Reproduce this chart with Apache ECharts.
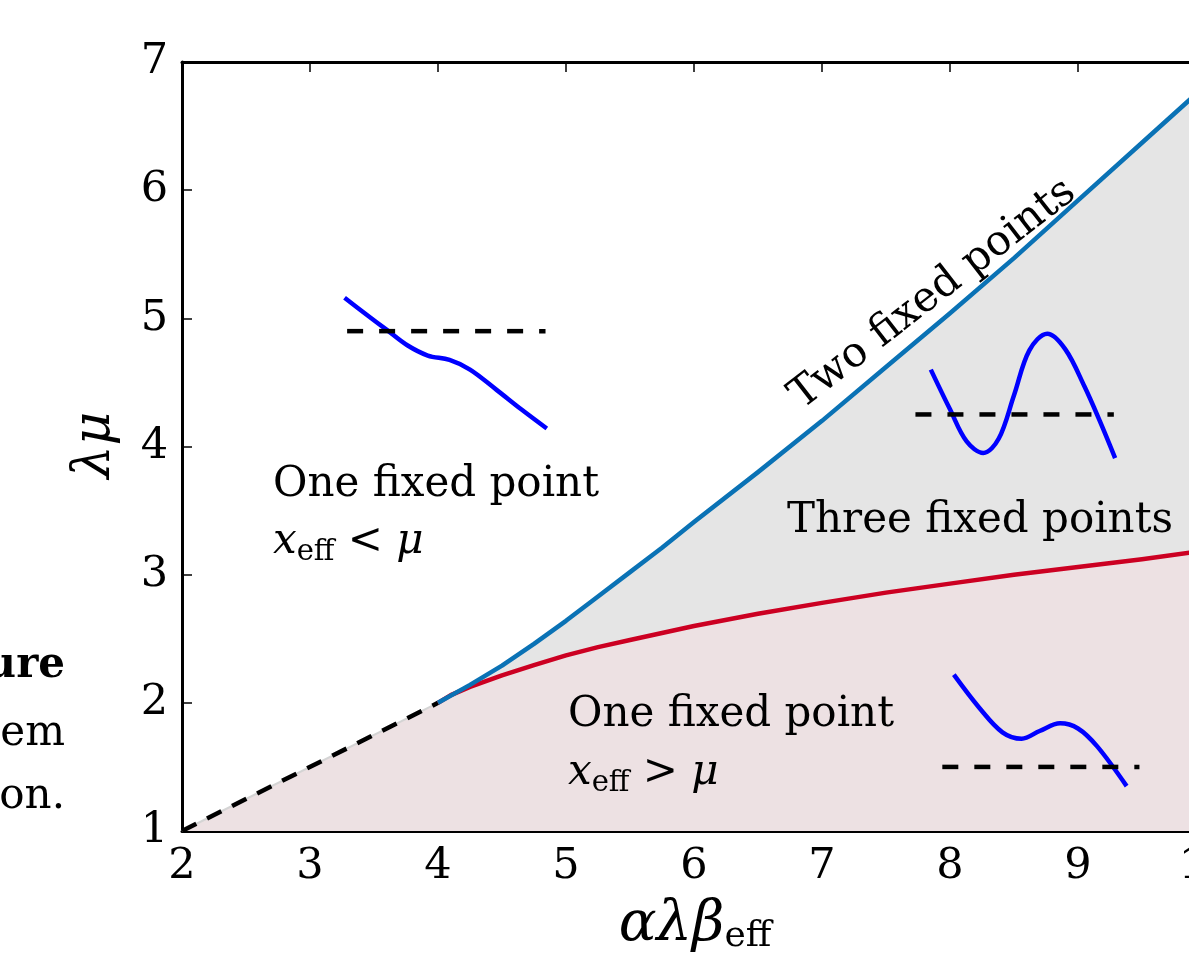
<!DOCTYPE html>
<html>
<head>
<meta charset="utf-8">
<script src="https://cdn.jsdelivr.net/npm/echarts@6/dist/echarts.min.js"></script>
<style>
html, body { margin: 0; padding: 0; background: #fff; }
#main { width: 1189px; height: 956px; }
</style>
</head>
<body>
<div id="main"></div>
<script>
// boundary curves
var dashedEdge = [[2, 1], [4, 2]];
var blueCurve = [[4, 2], [4.25, 2.14], [4.5, 2.29], [4.75, 2.46], [5, 2.64], [5.25, 2.83], [5.5, 3.02],
    [5.75, 3.21], [6, 3.41], [6.5, 3.8], [7, 4.2], [7.5, 4.62], [8, 5.04], [8.5, 5.47], [9, 5.92],
    [9.5, 6.37], [10, 6.82]];
var redCurve = [[4, 2], [4.1, 2.06], [4.25, 2.125], [4.5, 2.215], [4.75, 2.295], [5, 2.37], [5.25, 2.435],
    [5.5, 2.49], [5.75, 2.545], [6, 2.6], [6.5, 2.695], [7, 2.78], [7.5, 2.86], [8, 2.93], [8.5, 3.0],
    [9, 3.06], [9.5, 3.12], [10, 3.19]];

// little sketches of the potential, in data coords
var sketchTop = [[3.27, 5.16], [3.44, 5.03], [3.6, 4.91], [3.76, 4.79], [3.92, 4.71], [4.09, 4.675],
    [4.25, 4.6], [4.46, 4.44], [4.65, 4.29], [4.85, 4.14]];
var levelTop = [[3.29, 4.9], [4.84, 4.9]];
var sketchMid = [[7.85, 4.6], [8.0, 4.29], [8.13, 4.04], [8.26, 3.95], [8.38, 4.06], [8.5, 4.4],
    [8.62, 4.75], [8.76, 4.88], [8.9, 4.76], [9.05, 4.47], [9.17, 4.2], [9.29, 3.91]];
var levelMid = [[7.73, 4.25], [9.28, 4.25]];
var sketchLow = [[8.03, 2.22], [8.23, 1.96], [8.41, 1.77], [8.56, 1.72], [8.7, 1.78], [8.86, 1.84],
    [9.0, 1.8], [9.15, 1.66], [9.38, 1.35]];
var levelLow = [[7.94, 1.5], [9.48, 1.5]];

var serif = 'DejaVu Serif';
var dom = document.getElementById('main');
var myChart = echarts.init(dom);

function line(data, color, width, type, smooth) {
    return {
        type: 'line', data: data, showSymbol: false, silent: true, smooth: smooth || false,
        lineStyle: { color: color, width: width, type: type || 'solid', cap: 'butt', join: 'round' },
        animation: false
    };
}

var lowerEdge = dashedEdge.concat(redCurve.slice(1));

var axisCommon = {
    type: 'value',
    axisLine: { show: true, onZero: false, lineStyle: { color: '#000', width: 3 } },
    axisTick: { show: true, inside: true, length: 10, lineStyle: { color: '#000', width: 1.5 } },
    splitLine: { show: false },
    axisLabel: { fontFamily: serif, fontSize: 43, color: '#000', margin: 14 }
};

var txt = '42px "DejaVu Serif"';
var sub = { i: { fontStyle: 'italic', fontSize: 42, fontFamily: serif }, s: { fontSize: 29, fontFamily: serif, padding: [20, 0, 0, 0] } };

var option = {
    animation: false,
    grid: { left: 182, top: 62, right: -17, bottom: 125, containLabel: false, outerBoundsMode: 'none' },
    xAxis: [
        Object.assign({}, axisCommon, { min: 2, max: 10, interval: 1, position: 'bottom' }),
        Object.assign({}, axisCommon, { min: 2, max: 10, interval: 1, position: 'top',
            axisLabel: { show: false } })
    ],
    yAxis: [
        Object.assign({}, axisCommon, { min: 1, max: 7, interval: 1, position: 'left' })
    ],
    series: [
        Object.assign(line(blueCurve, '#e5e5e5', 0), { areaStyle: { color: '#e5e5e5', opacity: 1, origin: 'start' } }),
        Object.assign(line(lowerEdge, '#ede1e3', 0), { areaStyle: { color: '#ede1e3', opacity: 1, origin: 'start' } }),
        line(dashedEdge, '#d4d4d4', 2),
        line(dashedEdge, '#000', 4.5, [16, 12]),
        line(redCurve, '#cc0022', 4.5),
        line(blueCurve, '#0a72b5', 4.5),
        line(sketchTop, '#0000ff', 4.5, 'solid', 0.35),
        line(levelTop, '#000', 4.5, [16, 16]),
        line(sketchMid, '#0000ff', 4.5, 'solid', 0.35),
        line(levelMid, '#000', 4.5, [16, 16]),
        line(sketchLow, '#0000ff', 4.5, 'solid', 0.35),
        line(levelLow, '#000', 4.5, [16, 16])
    ],
    graphic: [
        { type: 'text', z: 100, x: 273, y: 485, style: { text: 'One fixed point', font: txt, fill: '#000', verticalAlign: 'middle' } },
        { type: 'text', z: 100, x: 273, y: 542, style: { text: '{i|x}{s|eff} < {i|μ}', font: txt, fill: '#000', verticalAlign: 'middle', rich: sub } },
        { type: 'text', z: 100, x: 568, y: 715, style: { text: 'One fixed point', font: txt, fill: '#000', verticalAlign: 'middle' } },
        { type: 'text', z: 100, x: 568, y: 773, style: { text: '{i|x}{s|eff} > {i|μ}', font: txt, fill: '#000', verticalAlign: 'middle', rich: sub } },
        { type: 'text', z: 100, x: 787, y: 521, style: { text: 'Three fixed points', font: txt, fill: '#000', verticalAlign: 'middle' } },
        { type: 'text', z: 100, x: 808, y: 418, rotation: 0.66, style: { text: 'Two fixed points', font: txt, fill: '#000', verticalAlign: 'bottom' } },
        { type: 'text', z: 100, x: 95, y: 445, rotation: Math.PI / 2, style: { text: 'λμ', font: 'italic 52px "DejaVu Serif"', fill: '#000', align: 'center', verticalAlign: 'middle' } },
        { type: 'text', z: 100, x: 695, y: 925, style: {
            text: '{i|αλβ}{s|eff}', fill: '#000', align: 'center', verticalAlign: 'middle',
            rich: { i: { fontStyle: 'italic', fontSize: 56, fontFamily: serif }, s: { fontSize: 36, fontFamily: serif, padding: [24, 0, 0, 0] } } } },
        { type: 'text', z: 100, x: 65, y: 666, style: { text: 'ure', font: 'bold 42px "DejaVu Serif"', fill: '#000', align: 'right', verticalAlign: 'middle' } },
        { type: 'text', z: 100, x: 65, y: 734, style: { text: 'em', font: txt, fill: '#000', align: 'right', verticalAlign: 'middle' } },
        { type: 'text', z: 100, x: 65, y: 797, style: { text: 'on.', font: txt, fill: '#000', align: 'right', verticalAlign: 'middle' } }
    ]
};

if (option && typeof option === "object") {
    myChart.setOption(option, true);
}
</script>
</body>
</html>
